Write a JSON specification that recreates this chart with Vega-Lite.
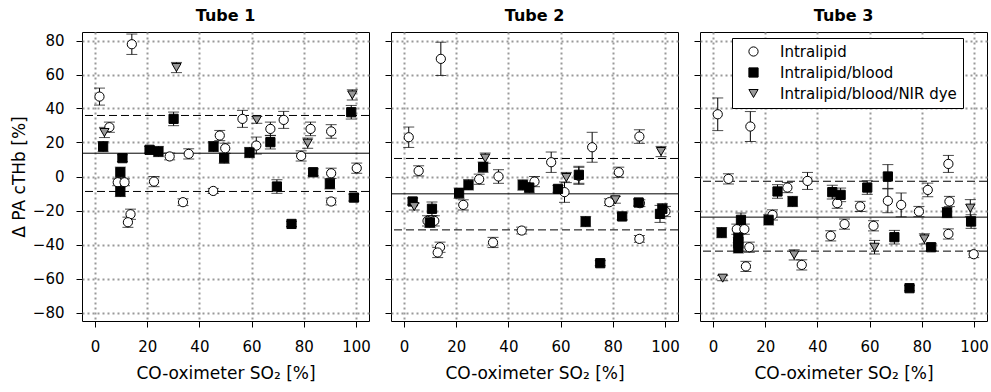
{
  "$schema": "https://vega.github.io/schema/vega-lite/v6.json",
  "padding": {"left": 9, "top": 7, "right": 0, "bottom": 5},
  "background": "white",
  "datasets": {
    "lines": [
      {"tube": 1, "kind": "mean", "dpa": 13.7}, {"tube": 1, "kind": "limit", "dpa": 35.9}, {"tube": 1, "kind": "limit", "dpa": -8.8},
      {"tube": 2, "kind": "mean", "dpa": -10.2}, {"tube": 2, "kind": "limit", "dpa": 10.6}, {"tube": 2, "kind": "limit", "dpa": -31.4},
      {"tube": 3, "kind": "mean", "dpa": -23.9}, {"tube": 3, "kind": "limit", "dpa": -2.8}, {"tube": 3, "kind": "limit", "dpa": -43.9}
    ],
    "pts": [
      {"tube": 1, "sample": "Intralipid", "so2": 14.1, "dpa": 77.8, "err": 6},
      {"tube": 1, "sample": "Intralipid", "so2": 1.7, "dpa": 47, "err": 5},
      {"tube": 1, "sample": "Intralipid", "so2": 5.5, "dpa": 29, "err": 3},
      {"tube": 1, "sample": "Intralipid", "so2": 28.6, "dpa": 11.8, "err": 2},
      {"tube": 1, "sample": "Intralipid", "so2": 35.9, "dpa": 13.3, "err": 3},
      {"tube": 1, "sample": "Intralipid", "so2": 8.7, "dpa": -3.4, "err": 2},
      {"tube": 1, "sample": "Intralipid", "so2": 11.3, "dpa": -3.4, "err": 2},
      {"tube": 1, "sample": "Intralipid", "so2": 22.6, "dpa": -3, "err": 3},
      {"tube": 1, "sample": "Intralipid", "so2": 33.7, "dpa": -15.1, "err": 2},
      {"tube": 1, "sample": "Intralipid", "so2": 13.6, "dpa": -22.2, "err": 3},
      {"tube": 1, "sample": "Intralipid", "so2": 12.6, "dpa": -26.9, "err": 3},
      {"tube": 1, "sample": "Intralipid", "so2": 45.3, "dpa": -8.5, "err": 1.5},
      {"tube": 1, "sample": "Intralipid", "so2": 47.8, "dpa": 24.1, "err": 3},
      {"tube": 1, "sample": "Intralipid", "so2": 49.9, "dpa": 16.6, "err": 3},
      {"tube": 1, "sample": "Intralipid", "so2": 56.5, "dpa": 33.9, "err": 5},
      {"tube": 1, "sample": "Intralipid", "so2": 67.2, "dpa": 28, "err": 4},
      {"tube": 1, "sample": "Intralipid", "so2": 72.3, "dpa": 33.3, "err": 5},
      {"tube": 1, "sample": "Intralipid", "so2": 61.8, "dpa": 18.2, "err": 5},
      {"tube": 1, "sample": "Intralipid", "so2": 79, "dpa": 12.1, "err": 3},
      {"tube": 1, "sample": "Intralipid", "so2": 82.6, "dpa": 28, "err": 4},
      {"tube": 1, "sample": "Intralipid", "so2": 90.5, "dpa": 26.5, "err": 4},
      {"tube": 1, "sample": "Intralipid", "so2": 90.5, "dpa": 1.9, "err": 3},
      {"tube": 1, "sample": "Intralipid", "so2": 100.3, "dpa": 4.9, "err": 3},
      {"tube": 1, "sample": "Intralipid", "so2": 90.5, "dpa": -14.7, "err": 2},
      {"tube": 1, "sample": "Intralipid/blood", "so2": 3.1, "dpa": 17.6, "err": 3},
      {"tube": 1, "sample": "Intralipid/blood", "so2": 10.5, "dpa": 10.8, "err": 2},
      {"tube": 1, "sample": "Intralipid/blood", "so2": 9.7, "dpa": 2.5, "err": 3},
      {"tube": 1, "sample": "Intralipid/blood", "so2": 9.7, "dpa": -8.8, "err": 3},
      {"tube": 1, "sample": "Intralipid/blood", "so2": 20.9, "dpa": 15.7, "err": 2},
      {"tube": 1, "sample": "Intralipid/blood", "so2": 24.3, "dpa": 14.7, "err": 3},
      {"tube": 1, "sample": "Intralipid/blood", "so2": 30.1, "dpa": 33.9, "err": 4},
      {"tube": 1, "sample": "Intralipid/blood", "so2": 45.4, "dpa": 17.6, "err": 3},
      {"tube": 1, "sample": "Intralipid/blood", "so2": 49.5, "dpa": 10.8, "err": 3},
      {"tube": 1, "sample": "Intralipid/blood", "so2": 59.2, "dpa": 14.1, "err": 3},
      {"tube": 1, "sample": "Intralipid/blood", "so2": 67.2, "dpa": 20.2, "err": 4},
      {"tube": 1, "sample": "Intralipid/blood", "so2": 69.7, "dpa": -5.9, "err": 4},
      {"tube": 1, "sample": "Intralipid/blood", "so2": 75.3, "dpa": -27.9, "err": 1.5},
      {"tube": 1, "sample": "Intralipid/blood", "so2": 83.6, "dpa": 2.5, "err": 2},
      {"tube": 1, "sample": "Intralipid/blood", "so2": 90, "dpa": -4.3, "err": 3},
      {"tube": 1, "sample": "Intralipid/blood", "so2": 98.2, "dpa": 37.8, "err": 4},
      {"tube": 1, "sample": "Intralipid/blood", "so2": 99.2, "dpa": -12.4, "err": 2},
      {"tube": 1, "sample": "Intralipid/blood/NIR dye", "so2": 3.6, "dpa": 25.9, "err": 3},
      {"tube": 1, "sample": "Intralipid/blood/NIR dye", "so2": 31.2, "dpa": 64.1, "err": 3},
      {"tube": 1, "sample": "Intralipid/blood/NIR dye", "so2": 62, "dpa": 33.3, "err": 2},
      {"tube": 1, "sample": "Intralipid/blood/NIR dye", "so2": 81.5, "dpa": 19.6, "err": 3},
      {"tube": 1, "sample": "Intralipid/blood/NIR dye", "so2": 98.6, "dpa": 48, "err": 3},

      {"tube": 2, "sample": "Intralipid", "so2": 14.1, "dpa": 69.2, "err": 9.8},
      {"tube": 2, "sample": "Intralipid", "so2": 1.8, "dpa": 23.1, "err": 6},
      {"tube": 2, "sample": "Intralipid", "so2": 5.6, "dpa": 3.3, "err": 3},
      {"tube": 2, "sample": "Intralipid", "so2": 28.8, "dpa": -1.6, "err": 3},
      {"tube": 2, "sample": "Intralipid", "so2": 36.2, "dpa": 0, "err": 4},
      {"tube": 2, "sample": "Intralipid", "so2": 22.7, "dpa": -16.7, "err": 3},
      {"tube": 2, "sample": "Intralipid", "so2": 9, "dpa": -26.1, "err": 3},
      {"tube": 2, "sample": "Intralipid", "so2": 11.6, "dpa": -26.1, "err": 3},
      {"tube": 2, "sample": "Intralipid", "so2": 45.1, "dpa": -31.8, "err": 2},
      {"tube": 2, "sample": "Intralipid", "so2": 34.1, "dpa": -38.8, "err": 3},
      {"tube": 2, "sample": "Intralipid", "so2": 13.8, "dpa": -41.6, "err": 3},
      {"tube": 2, "sample": "Intralipid", "so2": 12.9, "dpa": -44.7, "err": 3},
      {"tube": 2, "sample": "Intralipid", "so2": 50, "dpa": -3, "err": 3},
      {"tube": 2, "sample": "Intralipid", "so2": 56.4, "dpa": 8.4, "err": 6},
      {"tube": 2, "sample": "Intralipid", "so2": 61.5, "dpa": -9.2, "err": 6},
      {"tube": 2, "sample": "Intralipid", "so2": 67, "dpa": 0.4, "err": 5},
      {"tube": 2, "sample": "Intralipid", "so2": 72.1, "dpa": 17.2, "err": 8.8},
      {"tube": 2, "sample": "Intralipid", "so2": 82.3, "dpa": 2.5, "err": 3},
      {"tube": 2, "sample": "Intralipid", "so2": 78.7, "dpa": -15.1, "err": 2},
      {"tube": 2, "sample": "Intralipid", "so2": 90.4, "dpa": -15.7, "err": 2},
      {"tube": 2, "sample": "Intralipid", "so2": 90.2, "dpa": 23.5, "err": 4},
      {"tube": 2, "sample": "Intralipid", "so2": 100.2, "dpa": -20.6, "err": 3},
      {"tube": 2, "sample": "Intralipid", "so2": 90.2, "dpa": -36.7, "err": 2},
      {"tube": 2, "sample": "Intralipid/blood", "so2": 3.3, "dpa": -14.7, "err": 2},
      {"tube": 2, "sample": "Intralipid/blood", "so2": 10.7, "dpa": -19, "err": 4},
      {"tube": 2, "sample": "Intralipid/blood", "so2": 9.9, "dpa": -27, "err": 3},
      {"tube": 2, "sample": "Intralipid/blood", "so2": 21.1, "dpa": -9.8, "err": 3},
      {"tube": 2, "sample": "Intralipid/blood", "so2": 24.7, "dpa": -4.9, "err": 3},
      {"tube": 2, "sample": "Intralipid/blood", "so2": 30.3, "dpa": 5.5, "err": 3},
      {"tube": 2, "sample": "Intralipid/blood", "so2": 45.5, "dpa": -5, "err": 3},
      {"tube": 2, "sample": "Intralipid/blood", "so2": 48, "dpa": -6.5, "err": 3},
      {"tube": 2, "sample": "Intralipid/blood", "so2": 59, "dpa": -7.3, "err": 2},
      {"tube": 2, "sample": "Intralipid/blood", "so2": 67, "dpa": 1, "err": 5},
      {"tube": 2, "sample": "Intralipid/blood", "so2": 69.6, "dpa": -26.5, "err": 3},
      {"tube": 2, "sample": "Intralipid/blood", "so2": 75.2, "dpa": -51, "err": 1.5},
      {"tube": 2, "sample": "Intralipid/blood", "so2": 83.6, "dpa": -23.5, "err": 2},
      {"tube": 2, "sample": "Intralipid/blood", "so2": 89.9, "dpa": -15.3, "err": 2},
      {"tube": 2, "sample": "Intralipid/blood", "so2": 98.1, "dpa": -22, "err": 5},
      {"tube": 2, "sample": "Intralipid/blood", "so2": 99, "dpa": -19, "err": 3},
      {"tube": 2, "sample": "Intralipid/blood/NIR dye", "so2": 3.9, "dpa": -17.7, "err": 2},
      {"tube": 2, "sample": "Intralipid/blood/NIR dye", "so2": 31.1, "dpa": 10.8, "err": 3},
      {"tube": 2, "sample": "Intralipid/blood/NIR dye", "so2": 62.2, "dpa": -0.6, "err": 3},
      {"tube": 2, "sample": "Intralipid/blood/NIR dye", "so2": 81, "dpa": -13.7, "err": 2},
      {"tube": 2, "sample": "Intralipid/blood/NIR dye", "so2": 98.5, "dpa": 14.7, "err": 3},

      {"tube": 3, "sample": "Intralipid", "so2": 1.8, "dpa": 36.6, "err": 9.6},
      {"tube": 3, "sample": "Intralipid", "so2": 14.3, "dpa": 29.4, "err": 8.8},
      {"tube": 3, "sample": "Intralipid", "so2": 5.9, "dpa": -1.4, "err": 3},
      {"tube": 3, "sample": "Intralipid", "so2": 36.2, "dpa": -2.6, "err": 5},
      {"tube": 3, "sample": "Intralipid", "so2": 28.5, "dpa": -6.5, "err": 3},
      {"tube": 3, "sample": "Intralipid", "so2": 47.6, "dpa": -15.7, "err": 3},
      {"tube": 3, "sample": "Intralipid", "so2": 45.1, "dpa": -34.9, "err": 3},
      {"tube": 3, "sample": "Intralipid", "so2": 22.8, "dpa": -22.6, "err": 3},
      {"tube": 3, "sample": "Intralipid", "so2": 9.1, "dpa": -31, "err": 3},
      {"tube": 3, "sample": "Intralipid", "so2": 12, "dpa": -31, "err": 3},
      {"tube": 3, "sample": "Intralipid", "so2": 13.9, "dpa": -41.6, "err": 3},
      {"tube": 3, "sample": "Intralipid", "so2": 12.6, "dpa": -52.9, "err": 3},
      {"tube": 3, "sample": "Intralipid", "so2": 34, "dpa": -52, "err": 3},
      {"tube": 3, "sample": "Intralipid", "so2": 50.4, "dpa": -28, "err": 3},
      {"tube": 3, "sample": "Intralipid", "so2": 56.4, "dpa": -17.6, "err": 3},
      {"tube": 3, "sample": "Intralipid", "so2": 67, "dpa": -14.3, "err": 7},
      {"tube": 3, "sample": "Intralipid", "so2": 72.1, "dpa": -16.7, "err": 7},
      {"tube": 3, "sample": "Intralipid", "so2": 61.5, "dpa": -29, "err": 3},
      {"tube": 3, "sample": "Intralipid", "so2": 78.9, "dpa": -20.6, "err": 3},
      {"tube": 3, "sample": "Intralipid", "so2": 82.3, "dpa": -7.9, "err": 4},
      {"tube": 3, "sample": "Intralipid", "so2": 90.2, "dpa": 7.4, "err": 5},
      {"tube": 3, "sample": "Intralipid", "so2": 90.6, "dpa": -14.7, "err": 3},
      {"tube": 3, "sample": "Intralipid", "so2": 90.2, "dpa": -33.8, "err": 3},
      {"tube": 3, "sample": "Intralipid", "so2": 99.9, "dpa": -45.7, "err": 2},
      {"tube": 3, "sample": "Intralipid/blood", "so2": 3.3, "dpa": -33, "err": 3},
      {"tube": 3, "sample": "Intralipid/blood", "so2": 10.7, "dpa": -25.5, "err": 4},
      {"tube": 3, "sample": "Intralipid/blood", "so2": 9.7, "dpa": -36, "err": 3},
      {"tube": 3, "sample": "Intralipid/blood", "so2": 9.7, "dpa": -39, "err": 3},
      {"tube": 3, "sample": "Intralipid/blood", "so2": 9.7, "dpa": -42, "err": 3},
      {"tube": 3, "sample": "Intralipid/blood", "so2": 21.3, "dpa": -25.5, "err": 3},
      {"tube": 3, "sample": "Intralipid/blood", "so2": 24.7, "dpa": -8.8, "err": 4},
      {"tube": 3, "sample": "Intralipid/blood", "so2": 30.5, "dpa": -14.7, "err": 3},
      {"tube": 3, "sample": "Intralipid/blood", "so2": 45.7, "dpa": -9.2, "err": 4},
      {"tube": 3, "sample": "Intralipid/blood", "so2": 48.9, "dpa": -10.8, "err": 4},
      {"tube": 3, "sample": "Intralipid/blood", "so2": 59.1, "dpa": -6.5, "err": 4},
      {"tube": 3, "sample": "Intralipid/blood", "so2": 67, "dpa": 0, "err": 7},
      {"tube": 3, "sample": "Intralipid/blood", "so2": 69.5, "dpa": -35.7, "err": 4},
      {"tube": 3, "sample": "Intralipid/blood", "so2": 75.3, "dpa": -65.7, "err": 1.5},
      {"tube": 3, "sample": "Intralipid/blood", "so2": 83.6, "dpa": -41.6, "err": 2},
      {"tube": 3, "sample": "Intralipid/blood", "so2": 89.7, "dpa": -21.2, "err": 3},
      {"tube": 3, "sample": "Intralipid/blood", "so2": 98.9, "dpa": -26.5, "err": 4},
      {"tube": 3, "sample": "Intralipid/blood/NIR dye", "so2": 3.7, "dpa": -59.8, "err": 1.5},
      {"tube": 3, "sample": "Intralipid/blood/NIR dye", "so2": 31.1, "dpa": -46.1, "err": 3},
      {"tube": 3, "sample": "Intralipid/blood/NIR dye", "so2": 61.9, "dpa": -41.6, "err": 4},
      {"tube": 3, "sample": "Intralipid/blood/NIR dye", "so2": 81, "dpa": -36.7, "err": 3},
      {"tube": 3, "sample": "Intralipid/blood/NIR dye", "so2": 98.6, "dpa": -18.6, "err": 5}
    ]
  },
  "hconcat": [
    {
      "width": 287, "height": 289,
      "title": {"text": "Tube 1"},
      "layer": [
        {"data": {"name": "lines"}, "transform": [{"filter": "datum.tube == 1 && datum.kind == 'mean'"}],
         "mark": {"type": "rule", "color": "black", "strokeWidth": 1},
         "encoding": {"y": {"field": "dpa", "type": "quantitative", "scale": {"domain": [-85, 85], "nice": false}, "axis": {"values": [-80, -60, -40, -20, 0, 20, 40, 60, 80], "title": "Δ PA cTHb [%]"}}}},
        {"data": {"name": "lines"}, "transform": [{"filter": "datum.tube == 1 && datum.kind == 'limit'"}],
         "mark": {"type": "rule", "color": "black", "strokeWidth": 1, "strokeDash": [8, 4]},
         "encoding": {"y": {"field": "dpa", "type": "quantitative", "scale": {"domain": [-85, 85], "nice": false}, "axis": {"values": [-80, -60, -40, -20, 0, 20, 40, 60, 80], "title": "Δ PA cTHb [%]"}}}},
        {"data": {"name": "pts"}, "transform": [{"filter": "datum.tube == 1"}],
         "mark": {"type": "errorbar", "color": "black", "ticks": {"size": 11, "color": "black"}},
         "encoding": {
           "x": {"field": "so2", "type": "quantitative", "scale": {"domain": [-5, 105], "nice": false, "zero": false}, "axis": {"values": [0, 20, 40, 60, 80, 100], "title": "CO-oximeter SO₂ [%]"}},
           "y": {"field": "dpa", "type": "quantitative", "scale": {"domain": [-85, 85], "nice": false}, "axis": {"values": [-80, -60, -40, -20, 0, 20, 40, 60, 80], "title": "Δ PA cTHb [%]"}},
           "yError": {"field": "err"}}},
        {"data": {"name": "pts"}, "transform": [{"filter": "datum.tube == 1"}],
         "mark": {"type": "point", "filled": true, "stroke": "black", "strokeWidth": 1, "opacity": 1, "size": 85},
         "encoding": {
           "x": {"field": "so2", "type": "quantitative", "scale": {"domain": [-5, 105], "nice": false, "zero": false}, "axis": {"values": [0, 20, 40, 60, 80, 100], "title": "CO-oximeter SO₂ [%]"}},
           "y": {"field": "dpa", "type": "quantitative", "scale": {"domain": [-85, 85], "nice": false}, "axis": {"values": [-80, -60, -40, -20, 0, 20, 40, 60, 80], "title": "Δ PA cTHb [%]"}},
           "shape": {"field": "sample", "type": "nominal", "scale": {"domain": ["Intralipid", "Intralipid/blood", "Intralipid/blood/NIR dye"], "range": ["circle", "square", "triangle-down"]},
             "legend": {"title": null, "orient": "none", "legendX": 650, "legendY": 6, "labelLimit": 400, "labelExpr": "datum.label + '\u00a0\u00a0\u00a0\u00a0\u00a0\u00a0\u00a0\u00a0\u00a0'", "encode": {"symbols": {"update": {"stroke": {"value": "black"}, "strokeWidth": {"value": 1}}}}}},
           "fill": {"field": "sample", "type": "nominal", "scale": {"domain": ["Intralipid", "Intralipid/blood", "Intralipid/blood/NIR dye"], "range": ["white", "black", "#999999"]},
             "legend": {"title": null, "orient": "none", "legendX": 650, "legendY": 6, "labelLimit": 400, "labelExpr": "datum.label + '\u00a0\u00a0\u00a0\u00a0\u00a0\u00a0\u00a0\u00a0\u00a0'", "encode": {"symbols": {"update": {"stroke": {"value": "black"}, "strokeWidth": {"value": 1}}}}}}}}
      ]
    },
    {
      "width": 287, "height": 289,
      "title": {"text": "Tube 2"},
      "layer": [
        {"data": {"name": "lines"}, "transform": [{"filter": "datum.tube == 2 && datum.kind == 'mean'"}],
         "mark": {"type": "rule", "color": "black", "strokeWidth": 1},
         "encoding": {"y": {"field": "dpa", "type": "quantitative", "scale": {"domain": [-85, 85], "nice": false}, "axis": {"values": [-80, -60, -40, -20, 0, 20, 40, 60, 80], "labels": false, "title": null}}}},
        {"data": {"name": "lines"}, "transform": [{"filter": "datum.tube == 2 && datum.kind == 'limit'"}],
         "mark": {"type": "rule", "color": "black", "strokeWidth": 1, "strokeDash": [8, 4]},
         "encoding": {"y": {"field": "dpa", "type": "quantitative", "scale": {"domain": [-85, 85], "nice": false}, "axis": {"values": [-80, -60, -40, -20, 0, 20, 40, 60, 80], "labels": false, "title": null}}}},
        {"data": {"name": "pts"}, "transform": [{"filter": "datum.tube == 2"}],
         "mark": {"type": "errorbar", "color": "black", "ticks": {"size": 11, "color": "black"}},
         "encoding": {
           "x": {"field": "so2", "type": "quantitative", "scale": {"domain": [-5, 105], "nice": false, "zero": false}, "axis": {"values": [0, 20, 40, 60, 80, 100], "title": "CO-oximeter SO₂ [%]"}},
           "y": {"field": "dpa", "type": "quantitative", "scale": {"domain": [-85, 85], "nice": false}, "axis": {"values": [-80, -60, -40, -20, 0, 20, 40, 60, 80], "labels": false, "title": null}},
           "yError": {"field": "err"}}},
        {"data": {"name": "pts"}, "transform": [{"filter": "datum.tube == 2"}],
         "mark": {"type": "point", "filled": true, "stroke": "black", "strokeWidth": 1, "opacity": 1, "size": 85},
         "encoding": {
           "x": {"field": "so2", "type": "quantitative", "scale": {"domain": [-5, 105], "nice": false, "zero": false}, "axis": {"values": [0, 20, 40, 60, 80, 100], "title": "CO-oximeter SO₂ [%]"}},
           "y": {"field": "dpa", "type": "quantitative", "scale": {"domain": [-85, 85], "nice": false}, "axis": {"values": [-80, -60, -40, -20, 0, 20, 40, 60, 80], "labels": false, "title": null}},
           "shape": {"field": "sample", "type": "nominal", "scale": {"domain": ["Intralipid", "Intralipid/blood", "Intralipid/blood/NIR dye"], "range": ["circle", "square", "triangle-down"]},
             "legend": {"title": null, "orient": "none", "legendX": 650, "legendY": 6, "labelLimit": 400, "labelExpr": "datum.label + '\u00a0\u00a0\u00a0\u00a0\u00a0\u00a0\u00a0\u00a0\u00a0'", "encode": {"symbols": {"update": {"stroke": {"value": "black"}, "strokeWidth": {"value": 1}}}}}},
           "fill": {"field": "sample", "type": "nominal", "scale": {"domain": ["Intralipid", "Intralipid/blood", "Intralipid/blood/NIR dye"], "range": ["white", "black", "#999999"]},
             "legend": {"title": null, "orient": "none", "legendX": 650, "legendY": 6, "labelLimit": 400, "labelExpr": "datum.label + '\u00a0\u00a0\u00a0\u00a0\u00a0\u00a0\u00a0\u00a0\u00a0'", "encode": {"symbols": {"update": {"stroke": {"value": "black"}, "strokeWidth": {"value": 1}}}}}}}}
      ]
    },
    {
      "width": 287, "height": 289,
      "title": {"text": "Tube 3"},
      "layer": [
        {"data": {"name": "lines"}, "transform": [{"filter": "datum.tube == 3 && datum.kind == 'mean'"}],
         "mark": {"type": "rule", "color": "black", "strokeWidth": 1},
         "encoding": {"y": {"field": "dpa", "type": "quantitative", "scale": {"domain": [-85, 85], "nice": false}, "axis": {"values": [-80, -60, -40, -20, 0, 20, 40, 60, 80], "labels": false, "title": null}}}},
        {"data": {"name": "lines"}, "transform": [{"filter": "datum.tube == 3 && datum.kind == 'limit'"}],
         "mark": {"type": "rule", "color": "black", "strokeWidth": 1, "strokeDash": [8, 4]},
         "encoding": {"y": {"field": "dpa", "type": "quantitative", "scale": {"domain": [-85, 85], "nice": false}, "axis": {"values": [-80, -60, -40, -20, 0, 20, 40, 60, 80], "labels": false, "title": null}}}},
        {"data": {"name": "pts"}, "transform": [{"filter": "datum.tube == 3"}],
         "mark": {"type": "errorbar", "color": "black", "ticks": {"size": 11, "color": "black"}},
         "encoding": {
           "x": {"field": "so2", "type": "quantitative", "scale": {"domain": [-5, 105], "nice": false, "zero": false}, "axis": {"values": [0, 20, 40, 60, 80, 100], "title": "CO-oximeter SO₂ [%]"}},
           "y": {"field": "dpa", "type": "quantitative", "scale": {"domain": [-85, 85], "nice": false}, "axis": {"values": [-80, -60, -40, -20, 0, 20, 40, 60, 80], "labels": false, "title": null}},
           "yError": {"field": "err"}}},
        {"data": {"name": "pts"}, "transform": [{"filter": "datum.tube == 3"}],
         "mark": {"type": "point", "filled": true, "stroke": "black", "strokeWidth": 1, "opacity": 1, "size": 85},
         "encoding": {
           "x": {"field": "so2", "type": "quantitative", "scale": {"domain": [-5, 105], "nice": false, "zero": false}, "axis": {"values": [0, 20, 40, 60, 80, 100], "title": "CO-oximeter SO₂ [%]"}},
           "y": {"field": "dpa", "type": "quantitative", "scale": {"domain": [-85, 85], "nice": false}, "axis": {"values": [-80, -60, -40, -20, 0, 20, 40, 60, 80], "labels": false, "title": null}},
           "shape": {"field": "sample", "type": "nominal", "scale": {"domain": ["Intralipid", "Intralipid/blood", "Intralipid/blood/NIR dye"], "range": ["circle", "square", "triangle-down"]},
             "legend": {"title": null, "orient": "none", "legendX": 650, "legendY": 6, "labelLimit": 400, "labelExpr": "datum.label + '\u00a0\u00a0\u00a0\u00a0\u00a0\u00a0\u00a0\u00a0\u00a0'", "encode": {"symbols": {"update": {"stroke": {"value": "black"}, "strokeWidth": {"value": 1}}}}}},
           "fill": {"field": "sample", "type": "nominal", "scale": {"domain": ["Intralipid", "Intralipid/blood", "Intralipid/blood/NIR dye"], "range": ["white", "black", "#999999"]},
             "legend": {"title": null, "orient": "none", "legendX": 650, "legendY": 6, "labelLimit": 400, "labelExpr": "datum.label + '\u00a0\u00a0\u00a0\u00a0\u00a0\u00a0\u00a0\u00a0\u00a0'", "encode": {"symbols": {"update": {"stroke": {"value": "black"}, "strokeWidth": {"value": 1}}}}}}}}
      ]
    }
  ],
  "spacing": 13,
  "resolve": {"scale": {"x": "independent", "y": "independent", "shape": "shared", "fill": "shared"}, "legend": {"shape": "shared", "fill": "shared"}},
  "config": {
    "font": "DejaVu Sans",
    "view": {"stroke": "black", "strokeWidth": 1},
    "axis": {"domain": false, "grid": true, "gridColor": "#999999", "gridDash": [2, 3], "gridWidth": 2, "tickColor": "black", "tickSize": 6, "labelFontSize": 15, "labelColor": "black", "labelFont": "DejaVu Sans", "titleFont": "DejaVu Sans", "titleFontSize": 17, "titleFontWeight": "normal", "titleColor": "black"},
    "axisX": {"labelPadding": 12, "titlePadding": 11, "labelFlush": false},
    "axisY": {"labelPadding": 12, "titlePadding": 4},
    "title": {"fontSize": 16, "fontWeight": "bold", "offset": 8, "color": "black", "font": "DejaVu Sans"},
    "legend": {"strokeColor": "black", "fillColor": "white", "padding": 6, "labelFontSize": 15, "labelFont": "DejaVu Sans", "labelColor": "black", "symbolStrokeColor": "black", "symbolStrokeWidth": 1, "symbolSize": 85, "symbolOpacity": 1, "rowPadding": 5, "labelOffset": 19, "symbolOffset": 8, "labelLimit": 400}
  }
}
